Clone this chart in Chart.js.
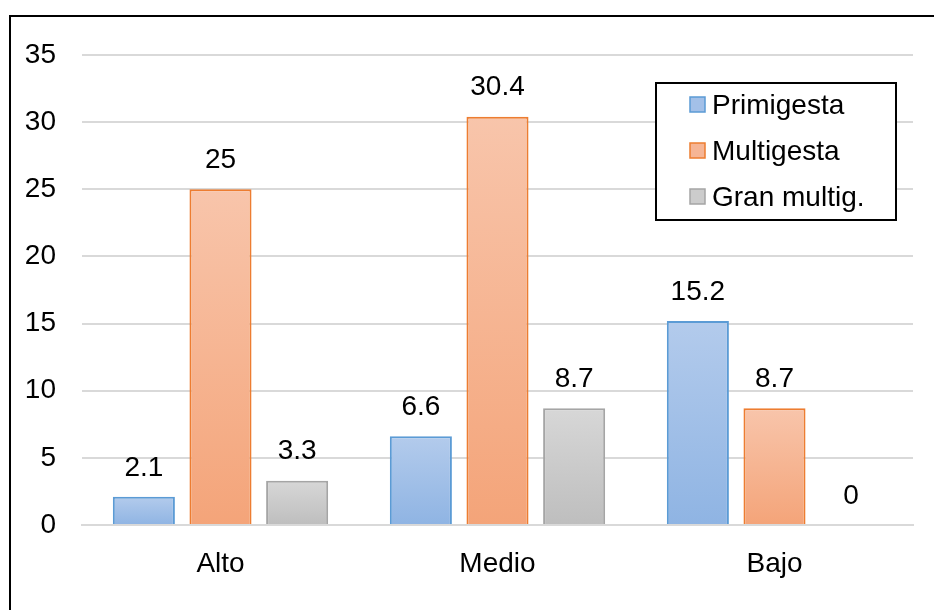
<!DOCTYPE html>
<html>
<head>
<meta charset="utf-8">
<script src="https://cdn.jsdelivr.net/npm/chart.js@4.4.1/dist/chart.umd.min.js"></script>
<style>
  html, body { margin: 0; padding: 0; background: #fff; }
  #wrap { position: relative; width: 934px; height: 610px; }
</style>
</head>
<body>
<div id="wrap"><canvas id="c" width="934" height="610"></canvas></div>
<script>
const categories = ['Alto', 'Medio', 'Bajo'];
const seriesNames = ['Primigesta', 'Multigesta', 'Gran multig.'];
const primigesta = [2.1, 6.6, 15.2];
const multigesta = [25, 30.4, 8.7];
const granMultig = [3.3, 8.7, 0];
const yMax = 35;
const yStep = 5;

const FONT = '"Liberation Sans", Arial, sans-serif';
const FS = 28;

const palettes = [
  { top: '#b3cbec', bottom: '#8fb4e3', solid: '#a3c0e8', border: '#5b9bd5' },
  { top: '#f8c5ab', bottom: '#f4a479', solid: '#f6b595', border: '#ed7d31' },
  { top: '#d7d7d7', bottom: '#bebebe', solid: '#cccccc', border: '#a5a5a5' }
];

function gradientFor(p) {
  return function (ctx) {
    const chart = ctx.chart;
    const y = chart.scales && chart.scales.y;
    if (ctx.type !== 'data' || !y) return p.solid;
    const v = ctx.raw;
    const top = y.getPixelForValue(v);
    const base = y.getPixelForValue(0);
    if (!isFinite(top) || !isFinite(base) || Math.abs(base - top) < 1) return p.solid;
    const g = chart.ctx.createLinearGradient(0, top, 0, base);
    g.addColorStop(0, p.top);
    g.addColorStop(1, p.bottom);
    return g;
  };
}

const seriesData = [primigesta, multigesta, granMultig];

const frame = {
  id: 'frame',
  beforeDraw(chart) {
    const c = chart.ctx;
    c.save();
    c.fillStyle = '#fff';
    c.fillRect(0, 0, chart.width, chart.height);
    c.strokeStyle = '#000';
    c.lineWidth = 2;
    c.strokeRect(10, 16, 1000, 1000);
    c.restore();
  }
};

const valueLabels = {
  id: 'valueLabels',
  afterDatasetsDraw(chart) {
    const c = chart.ctx;
    c.save();
    c.font = FS + 'px ' + FONT;
    c.fillStyle = '#000';
    c.textAlign = 'center';
    c.textBaseline = 'middle';
    chart.data.datasets.forEach((ds, i) => {
      const meta = chart.getDatasetMeta(i);
      meta.data.forEach((el, j) => {
        c.fillText(String(ds.data[j]), el.x, el.y - 29);
      });
    });
    c.restore();
  }
};

const boxLegend = {
  id: 'boxLegend',
  afterDraw(chart) {
    const c = chart.ctx;
    c.save();
    const x0 = 656, y0 = 83, w = 240, h = 137;
    c.fillStyle = '#fff';
    c.fillRect(x0, y0, w, h);
    c.strokeStyle = '#000';
    c.lineWidth = 2;
    c.strokeRect(x0, y0, w, h);
    c.font = FS + 'px ' + FONT;
    c.textBaseline = 'middle';
    c.textAlign = 'left';
    seriesNames.forEach((name, i) => {
      const cy = 105 + i * 46;
      const p = palettes[i];
      c.fillStyle = p.solid;
      c.fillRect(690, cy - 8, 15, 15);
      c.strokeStyle = p.border;
      c.lineWidth = 1.5;
      c.strokeRect(690, cy - 8, 15, 15);
      c.fillStyle = '#000';
      c.fillText(name, 712, cy + 1);
    });
    c.restore();
  }
};

new Chart(document.getElementById('c'), {
  type: 'bar',
  data: {
    labels: categories,
    datasets: seriesData.map((d, i) => ({
      label: seriesNames[i],
      data: d,
      backgroundColor: gradientFor(palettes[i]),
      borderColor: palettes[i].border,
      borderWidth: 2,
      borderSkipped: 'bottom',
      categoryPercentage: 0.83,
      barPercentage: 0.81
    }))
  },
  options: {
    responsive: false,
    animation: false,
    devicePixelRatio: 1,
    layout: { padding: { left: 0, top: 55, right: 21, bottom: 0 } },
    plugins: {
      legend: { display: false },
      tooltip: { enabled: false }
    },
    scales: {
      x: {
        grid: { display: false, drawTicks: false },
        border: { display: true, color: '#d9d9d9', width: 2 },
        ticks: { color: '#000', font: { family: FONT, size: FS }, padding: 22 },
        afterFit(scale) { scale.height = 85; }
      },
      y: {
        min: 0,
        max: yMax,
        grid: { color: '#d9d9d9', lineWidth: 2, drawTicks: false },
        border: { display: false },
        ticks: { stepSize: yStep, color: '#000', font: { family: FONT, size: FS }, padding: 26 },
        afterFit(scale) { scale.width = 82; }
      }
    }
  },
  plugins: [frame, valueLabels, boxLegend]
});
</script>
</body>
</html>
